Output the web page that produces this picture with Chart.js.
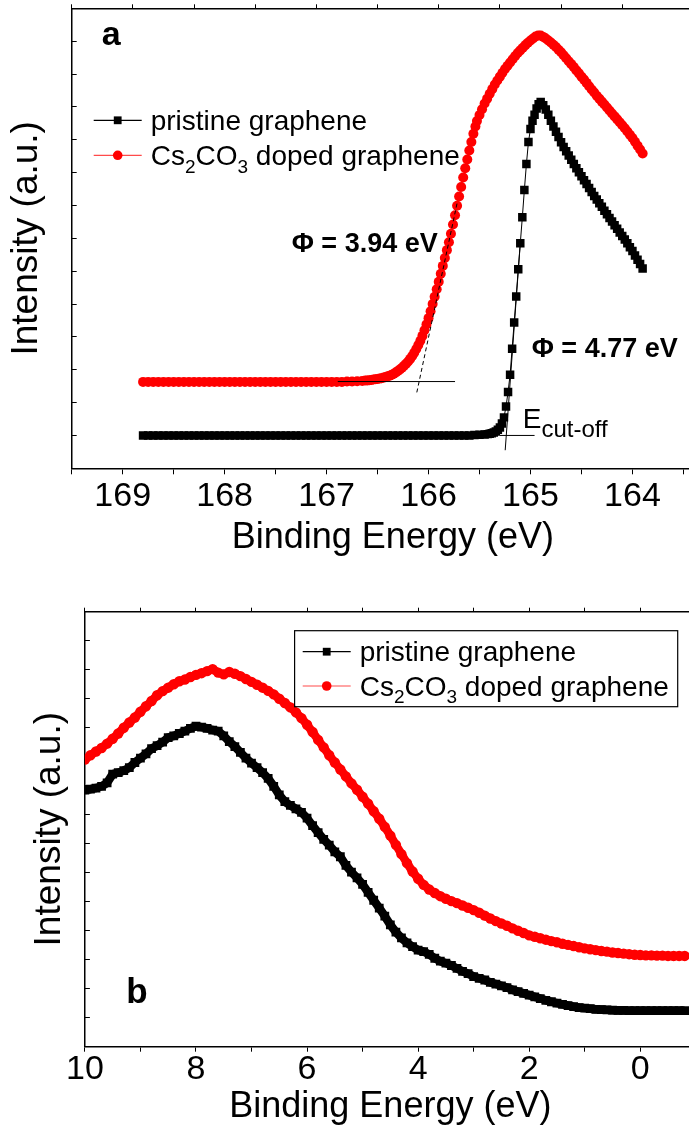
<!DOCTYPE html>
<html>
<head>
<meta charset="utf-8">
<script src="https://cdn.jsdelivr.net/npm/chart.js@4.4.0/dist/chart.umd.min.js"></script>
<style>
  html, body { margin: 0; padding: 0; background: #fff; overflow: hidden; }
  #page { position: relative; width: 689px; height: 1129px; overflow: hidden; background: #fff; }
  #wrapA { position: absolute; left: 0; top: 0; }
  #wrapB { position: absolute; left: 0; top: 560px; }
</style>
</head>
<body>
<div id="page">
  <div id="wrapA"><canvas id="chartA" width="720" height="560"></canvas></div>
  <div id="wrapB"><canvas id="chartB" width="702" height="569"></canvas></div>
</div>
<script>
// ---- panel a: secondary electron cut-off ----
const cutPristineE = [
  168.80, 168.75, 168.70, 168.65, 168.60, 168.55, 168.50, 168.45, 168.40, 168.35,
  168.30, 168.25, 168.20, 168.15, 168.10, 168.05, 168.00, 167.95, 167.90, 167.85,
  167.80, 167.75, 167.70, 167.65, 167.60, 167.55, 167.50, 167.45, 167.40, 167.35,
  167.30, 167.25, 167.20, 167.15, 167.10, 167.05, 167.00, 166.95, 166.90, 166.85,
  166.80, 166.75, 166.70, 166.65, 166.60, 166.55, 166.50, 166.45, 166.40, 166.35,
  166.30, 166.25, 166.20, 166.15, 166.10, 166.05, 166.00, 165.95, 165.90, 165.85,
  165.80, 165.75, 165.70, 165.65, 165.60, 165.55, 165.50, 165.45,
  165.42, 165.40, 165.38, 165.36, 165.34, 165.32, 165.30, 165.28, 165.26, 165.24,
  165.22, 165.20, 165.18, 165.16, 165.14, 165.12, 165.10, 165.08, 165.06, 165.04,
  165.02, 165.00, 164.98, 164.96, 164.94, 164.92, 164.90,
  164.875, 164.850, 164.825, 164.800, 164.775, 164.750, 164.725, 164.700, 164.675, 164.650,
  164.625, 164.600, 164.575, 164.550, 164.525, 164.500, 164.475, 164.450, 164.425, 164.400,
  164.375, 164.350, 164.325, 164.300, 164.275, 164.250, 164.225, 164.200, 164.175, 164.150,
  164.125, 164.100, 164.075, 164.050, 164.025, 164.000, 163.975, 163.950, 163.925, 163.900
];
const cutPristineI = [
  1.00, 1.00, 1.00, 1.00, 1.00, 1.00, 1.00, 1.00, 1.00, 1.00,
  1.00, 1.00, 1.00, 1.00, 1.00, 1.00, 1.00, 1.00, 1.00, 1.00,
  1.00, 1.00, 1.00, 1.00, 1.00, 1.00, 1.00, 1.00, 1.00, 1.00,
  1.00, 1.00, 1.00, 1.00, 1.00, 1.00, 1.00, 1.00, 1.00, 1.00,
  1.00, 1.00, 1.00, 1.00, 1.00, 1.00, 1.00, 1.00, 1.00, 1.00,
  1.00, 1.00, 1.00, 1.00, 1.00, 1.00, 1.00, 1.00, 1.00, 1.00,
  1.00, 1.00, 1.00, 1.00, 1.00, 1.01, 1.02, 1.03,
  1.04, 1.05, 1.07, 1.09, 1.12, 1.17, 1.24, 1.36, 1.55, 1.88,
  2.32, 2.85, 3.64, 4.44, 5.23, 6.06, 6.85, 7.64, 8.47, 9.26,
  9.93, 10.33, 10.58, 10.76, 10.95, 11.08, 11.15,
  11.05, 10.92, 10.76, 10.58, 10.40, 10.24, 10.08, 9.92, 9.78, 9.65,
  9.52, 9.39, 9.26, 9.13, 9.01, 8.89, 8.77, 8.65, 8.53, 8.41,
  8.29, 8.18, 8.07, 7.96, 7.84, 7.73, 7.62, 7.51, 7.40, 7.29,
  7.18, 7.07, 6.96, 6.85, 6.73, 6.61, 6.48, 6.35, 6.22, 6.08
];
const cutDopedE = [
  168.80, 168.75, 168.70, 168.65, 168.60, 168.55, 168.50, 168.45, 168.40, 168.35,
  168.30, 168.25, 168.20, 168.15, 168.10, 168.05, 168.00, 167.95, 167.90, 167.85,
  167.80, 167.75, 167.70, 167.65, 167.60, 167.55, 167.50, 167.45, 167.40, 167.35,
  167.30, 167.25, 167.20, 167.15, 167.10, 167.05, 167.00, 166.95, 166.90, 166.85,
  166.80, 166.75, 166.70, 166.65,
  166.62, 166.60, 166.58, 166.56, 166.54, 166.52, 166.50, 166.48, 166.46, 166.44,
  166.42, 166.40, 166.38, 166.36, 166.34, 166.32, 166.30, 166.28, 166.26, 166.24,
  166.22, 166.20, 166.18, 166.16, 166.14, 166.12, 166.10, 166.08, 166.06, 166.04,
  166.02, 166.00, 165.98, 165.96, 165.94, 165.92, 165.90, 165.88, 165.86, 165.84,
  165.82, 165.80, 165.78, 165.76, 165.74, 165.72, 165.70, 165.68, 165.66, 165.64,
  165.62, 165.60, 165.58, 165.56, 165.54,
  165.525, 165.500, 165.475, 165.450, 165.425, 165.400, 165.375, 165.350, 165.325, 165.300,
  165.275, 165.250, 165.225, 165.200, 165.175, 165.150, 165.125, 165.100, 165.075, 165.050,
  165.025, 165.000, 164.975, 164.950, 164.925, 164.900, 164.875, 164.850, 164.825, 164.800,
  164.775, 164.750, 164.725, 164.700, 164.675, 164.650, 164.625, 164.600, 164.575, 164.550,
  164.525, 164.500, 164.475, 164.450, 164.425, 164.400, 164.375, 164.350, 164.325, 164.300,
  164.275, 164.250, 164.225, 164.200, 164.175, 164.150, 164.125, 164.100, 164.075, 164.050,
  164.025, 164.000, 163.975, 163.950, 163.925, 163.900
];
const cutDopedI = [
  2.63, 2.63, 2.63, 2.63, 2.63, 2.63, 2.63, 2.63, 2.63, 2.63,
  2.63, 2.63, 2.63, 2.63, 2.63, 2.63, 2.63, 2.63, 2.63, 2.63,
  2.63, 2.63, 2.63, 2.63, 2.63, 2.63, 2.63, 2.63, 2.63, 2.63,
  2.63, 2.63, 2.63, 2.63, 2.63, 2.63, 2.63, 2.63, 2.63, 2.63,
  2.64, 2.64, 2.65, 2.66,
  2.67, 2.67, 2.68, 2.69, 2.70, 2.71, 2.72, 2.73, 2.74, 2.76,
  2.78, 2.80, 2.82, 2.85, 2.88, 2.92, 2.96, 3.01, 3.06, 3.12,
  3.18, 3.25, 3.33, 3.42, 3.52, 3.63, 3.75, 3.88, 4.03, 4.20,
  4.38, 4.57, 4.78, 5.00, 5.22, 5.45, 5.68, 5.92, 6.16, 6.40,
  6.64, 6.88, 7.14, 7.42, 7.70, 7.99, 8.27, 8.56, 8.85, 9.13,
  9.40, 9.67, 9.93, 10.18, 10.40,
  10.57, 10.75, 10.93, 11.10, 11.25, 11.40, 11.54, 11.68, 11.80, 11.92,
  12.04, 12.15, 12.25, 12.35, 12.45, 12.55, 12.64, 12.72, 12.80, 12.88,
  12.95, 13.02, 13.08, 13.14, 13.17, 13.17, 13.13, 13.08, 13.02, 12.96,
  12.89, 12.82, 12.74, 12.66, 12.57, 12.48, 12.39, 12.30, 12.21, 12.11,
  12.02, 11.92, 11.83, 11.73, 11.63, 11.53, 11.44, 11.34, 11.25, 11.16,
  11.07, 10.98, 10.89, 10.80, 10.71, 10.62, 10.53, 10.44, 10.35, 10.25,
  10.15, 10.05, 9.94, 9.82, 9.70, 9.58
];
// linear extrapolation lines used to read the cut-off
const pristineEdgeE = [165.248, 165.10];
const pristineEdgeI = [0.55, 6.85];
const pristineBaseE = [165.30, 164.96];
const pristineBaseI = [1.00, 1.00];
const dopedBaseE = [166.89, 165.74];
const dopedBaseI = [2.64, 2.64];
const dopedEdgeE = [166.115, 165.715];
const dopedEdgeI = [2.31, 8.14];
const xLabelsA = [169, 168, 167, 166, 165, 164];

// ---- panel b: valence band ----
const valenceE = [
  10.0, 9.9, 9.8, 9.7, 9.6, 9.5, 9.4, 9.3, 9.2, 9.1, 9.0,
  8.9, 8.8, 8.7, 8.6, 8.5, 8.4, 8.3, 8.2, 8.1, 8.0,
  7.9, 7.8, 7.7, 7.6, 7.5, 7.4, 7.3, 7.2, 7.1, 7.0,
  6.9, 6.8, 6.7, 6.6, 6.5, 6.4, 6.3, 6.2, 6.1, 6.0,
  5.9, 5.8, 5.7, 5.6, 5.5, 5.4, 5.3, 5.2, 5.1, 5.0,
  4.9, 4.8, 4.7, 4.6, 4.5, 4.4, 4.3, 4.2, 4.1, 4.0,
  3.9, 3.8, 3.7, 3.6, 3.5, 3.4, 3.3, 3.2, 3.1, 3.0,
  2.9, 2.8, 2.7, 2.6, 2.5, 2.4, 2.3, 2.2, 2.1, 2.0,
  1.9, 1.8, 1.7, 1.6, 1.5, 1.4, 1.3, 1.2, 1.1, 1.0,
  0.9, 0.8, 0.7, 0.6, 0.5, 0.4, 0.3, 0.2, 0.1, 0.0,
  -0.1, -0.2, -0.3, -0.4, -0.5, -0.6, -0.7, -0.8
];
const valencePristine = [
  8.85, 8.88, 8.92, 8.98, 9.10, 9.40, 9.45, 9.52, 9.62, 9.80, 9.95,
  10.10, 10.28, 10.38, 10.50, 10.66, 10.72, 10.80, 10.88, 10.98, 11.05,
  11.02, 10.98, 10.92, 10.88, 10.72, 10.52, 10.35, 10.15, 9.95, 9.78,
  9.62, 9.45, 9.25, 8.98, 8.68, 8.45, 8.32, 8.20, 8.08, 7.88,
  7.62, 7.38, 7.15, 6.95, 6.72, 6.55, 6.25, 6.02, 5.82, 5.60,
  5.32, 5.05, 4.78, 4.50, 4.20, 3.95, 3.75, 3.58, 3.45, 3.33,
  3.28, 3.18, 3.05, 2.95, 2.88, 2.80, 2.70, 2.60, 2.52, 2.42,
  2.36, 2.30, 2.22, 2.16, 2.10, 2.04, 1.96, 1.90, 1.84, 1.78,
  1.72, 1.66, 1.60, 1.55, 1.50, 1.46, 1.42, 1.38, 1.35, 1.33,
  1.31, 1.29, 1.28, 1.27, 1.26, 1.25, 1.25, 1.24, 1.24, 1.24,
  1.24, 1.24, 1.24, 1.24, 1.24, 1.24, 1.24, 1.24
];
const valenceDoped = [
  9.90, 10.05, 10.18, 10.30, 10.45, 10.62, 10.80, 11.00, 11.18, 11.35, 11.55,
  11.74, 11.92, 12.12, 12.26, 12.38, 12.50, 12.60, 12.66, 12.75, 12.82,
  12.88, 12.95, 13.02, 12.90, 12.84, 12.92, 12.86, 12.78, 12.68, 12.58,
  12.48, 12.38, 12.27, 12.15, 12.00, 11.85, 11.70, 11.53, 11.33, 11.10,
  10.85, 10.58, 10.32, 10.05, 9.80, 9.56, 9.32, 9.08, 8.86, 8.62,
  8.38, 8.12, 7.86, 7.58, 7.28, 6.96, 6.64, 6.33, 6.04, 5.79,
  5.58, 5.42, 5.30, 5.19, 5.10, 5.02, 4.95, 4.87, 4.79, 4.71,
  4.62, 4.52, 4.42, 4.33, 4.25, 4.17, 4.08, 4.00, 3.92, 3.84,
  3.79, 3.74, 3.69, 3.64, 3.60, 3.55, 3.51, 3.47, 3.43, 3.39,
  3.36, 3.33, 3.30, 3.28, 3.25, 3.23, 3.21, 3.19, 3.17, 3.16,
  3.15, 3.15, 3.14, 3.14, 3.13, 3.13, 3.13, 3.13
];
const xLabelsB = [10, 8, 6, 4, 2, 0];

const legendPristine = [['pristine graphene', '']];
const legendDoped = [['Cs', ''], ['2', 'sub'], ['CO', ''], ['3', 'sub'], [' doped graphene', '']];

const FONT = '"Liberation Sans", Arial, Helvetica, sans-serif';
Chart.defaults.font.family = FONT;
Chart.defaults.color = '#000';

function points(xs, ys) {
  return xs.map((x, i) => ({ x: x, y: ys[i] }));
}

function series(label, xs, ys, color, shape, radius, width) {
  return {
    label: label,
    data: points(xs, ys),
    showLine: true,
    borderColor: color,
    borderWidth: width || 1,
    borderJoinStyle: 'round',
    pointStyle: shape,
    pointRadius: radius,
    pointBackgroundColor: color,
    pointBorderWidth: 0,
    order: 2
  };
}

function fitLine(xs, ys, dash) {
  return {
    data: points(xs, ys),
    showLine: true,
    borderColor: '#000',
    borderWidth: 1,
    borderDash: dash || [],
    pointRadius: 0,
    order: 0
  };
}

// text with subscripts, drawn left to right
function drawRich(ctx, parts, x, y, size) {
  parts.forEach(([t, kind]) => {
    const s = kind === 'sub' ? Math.round(size * 0.68) : size;
    ctx.font = s + 'px ' + FONT;
    ctx.fillText(t, x, kind === 'sub' ? y + size * 0.28 : y);
    x += ctx.measureText(t).width;
  });
}

function legendRow(ctx, x, y, color, lineColor, shape, parts) {
  ctx.strokeStyle = lineColor;
  ctx.lineWidth = 1.2;
  ctx.beginPath();
  ctx.moveTo(x, y);
  ctx.lineTo(x + 48, y);
  ctx.stroke();
  ctx.fillStyle = color;
  if (shape === 'rect') {
    ctx.fillRect(x + 24 - 3.9, y - 3.9, 7.8, 7.8);
  } else {
    ctx.beginPath();
    ctx.arc(x + 24, y, 4.8, 0, Math.PI * 2);
    ctx.fill();
  }
  ctx.fillStyle = '#000';
  drawRich(ctx, parts, x + 57, y + 9.5, 28);
}

const notesA = {
  id: 'notesA',
  afterDatasetsDraw(chart) {
    const { ctx, chartArea: a } = chart;
    ctx.save();
    ctx.textAlign = 'left';
    ctx.textBaseline = 'alphabetic';
    ctx.fillStyle = '#000';
    ctx.font = 'bold 34px ' + FONT;
    ctx.fillText('a', a.left + 30, a.top + 37);
    legendRow(ctx, a.left + 22, a.top + 112, '#000', '#000', 'rect', legendPristine);
    legendRow(ctx, a.left + 22, a.top + 147, '#ff0000', '#ff4a4a', 'circle', legendDoped);
    ctx.fillStyle = '#000';
    ctx.font = 'bold 27px ' + FONT;
    ctx.fillText('Φ = 3.94 eV', a.left + 220, a.top + 243.5);
    ctx.fillText('Φ = 4.77 eV', a.left + 460, a.top + 348.5);
    ctx.font = '28px ' + FONT;
    ctx.fillText('E', a.left + 451, a.top + 419.5);
    const w = ctx.measureText('E').width;
    ctx.font = '24px ' + FONT;
    ctx.fillText('cut-off', a.left + 451 + w, a.top + 428.5);
    ctx.restore();
  }
};

const notesB = {
  id: 'notesB',
  afterDatasetsDraw(chart) {
    const { ctx, chartArea: a } = chart;
    ctx.save();
    ctx.textAlign = 'left';
    ctx.textBaseline = 'alphabetic';
    ctx.strokeStyle = '#000';
    ctx.lineWidth = 1.2;
    ctx.strokeRect(a.left + 209.7, a.top + 19, 383.1, 76);
    legendRow(ctx, a.left + 217.8, a.top + 40, '#000', '#000', 'rect', legendPristine);
    legendRow(ctx, a.left + 217.8, a.top + 74.3, '#ff0000', '#ff4a4a', 'circle', legendDoped);
    ctx.fillStyle = '#000';
    ctx.font = 'bold 35px ' + FONT;
    ctx.fillText('b', a.left + 41.3, a.top + 391.3);
    ctx.restore();
  }
};

function baseOptions() {
  return {
    responsive: false,
    devicePixelRatio: 1,
    animation: false,
    events: [],
    layout: { padding: 0 },
    plugins: { legend: { display: false }, tooltip: { enabled: false } }
  };
}

// panel a
const optsA = baseOptions();
optsA.scales = {
  x: {
    type: 'linear', position: 'bottom', reverse: true,
    min: 163.2, max: 169.5,
    afterFit(s) { s.height = 91.7; },
    border: { color: '#000', width: 1.5 },
    grid: { drawOnChartArea: false, color: '#000', tickLength: 6, lineWidth: 1 },
    ticks: {
      stepSize: 0.5, includeBounds: false, maxRotation: 0, autoSkip: false,
      padding: 2, font: { size: 34 }, color: '#000',
      callback: v => (xLabelsA.includes(v) ? String(v) : '')
    },
    title: { display: true, text: 'Binding Energy (eV)', font: { size: 36 }, color: '#000', padding: { top: 0, bottom: 0.4 } }
  },
  xTop: {
    type: 'linear', position: 'top', min: 0, max: 10.5,
    afterFit(s) { s.height = 8.3; },
    border: { color: '#000', width: 1.5 },
    grid: { drawOnChartArea: false, color: '#000', tickLength: 4 },
    ticks: { display: false, stepSize: 1 }
  },
  y: {
    type: 'linear', position: 'left', min: 0, max: 14,
    afterFit(s) { s.width = 71.7; },
    border: { color: '#000', width: 1.5 },
    grid: { drawOnChartArea: false, color: '#000', tickLength: -5 },
    ticks: { display: false, stepSize: 1 },
    title: { display: true, text: 'Intensity (a.u.)', font: { size: 37 }, color: '#000', padding: { top: 5, bottom: 0 } }
  }
};

new Chart(document.getElementById('chartA'), {
  type: 'scatter',
  data: {
    datasets: [
      series('pristine graphene', cutPristineE, cutPristineI, '#000000', 'rect', 6.0),
      series('Cs2CO3 doped graphene', cutDopedE, cutDopedI, '#ff0000', 'circle', 5.0)
    ].concat([
      fitLine(pristineEdgeE, pristineEdgeI),
      fitLine(pristineBaseE, pristineBaseI),
      fitLine(dopedBaseE, dopedBaseI),
      fitLine(dopedEdgeE, dopedEdgeI, [4, 3])
    ])
  },
  options: optsA,
  plugins: [notesA]
});

// panel b
const optsB = baseOptions();
optsB.scales = {
  x: {
    type: 'linear', position: 'bottom', reverse: true,
    min: -1, max: 10,
    afterFit(s) { s.height = 82.3; },
    border: { color: '#000', width: 1.5 },
    grid: { drawOnChartArea: false, color: '#000', tickLength: 5, lineWidth: 1 },
    ticks: {
      stepSize: 1, includeBounds: false, maxRotation: 0, autoSkip: false,
      padding: -2, font: { size: 34 }, color: '#000',
      callback: v => (xLabelsB.includes(v) ? String(Math.abs(v)) : '')
    },
    title: { display: true, text: 'Binding Energy (eV)', font: { size: 36 }, color: '#000', padding: { top: 0, bottom: 0.7 } }
  },
  xTop: {
    type: 'linear', position: 'top', reverse: true, min: -1, max: 10,
    afterFit(s) { s.height = 51.7; },
    border: { color: '#000', width: 1.5 },
    grid: { drawOnChartArea: false, color: '#000', tickLength: 4 },
    ticks: { display: false, stepSize: 1 }
  },
  y: {
    type: 'linear', position: 'left', min: 0, max: 15,
    afterFit(s) { s.width = 84.9; },
    border: { color: '#000', width: 1.5 },
    grid: { drawOnChartArea: false, color: '#000', tickLength: -5 },
    ticks: { display: false, stepSize: 1 },
    title: { display: true, text: 'Intensity (a.u.)', font: { size: 37 }, color: '#000', padding: { top: 28, bottom: 0 } }
  }
};

new Chart(document.getElementById('chartB'), {
  type: 'scatter',
  data: {
    datasets: [
      series('pristine graphene', valenceE, valencePristine, '#000000', 'rect', 6.2, 8.5),
      series('Cs2CO3 doped graphene', valenceE, valenceDoped, '#ff0000', 'circle', 5.2, 8.5)
    ]
  },
  options: optsB,
  plugins: [notesB]
});
</script>
</body>
</html>
